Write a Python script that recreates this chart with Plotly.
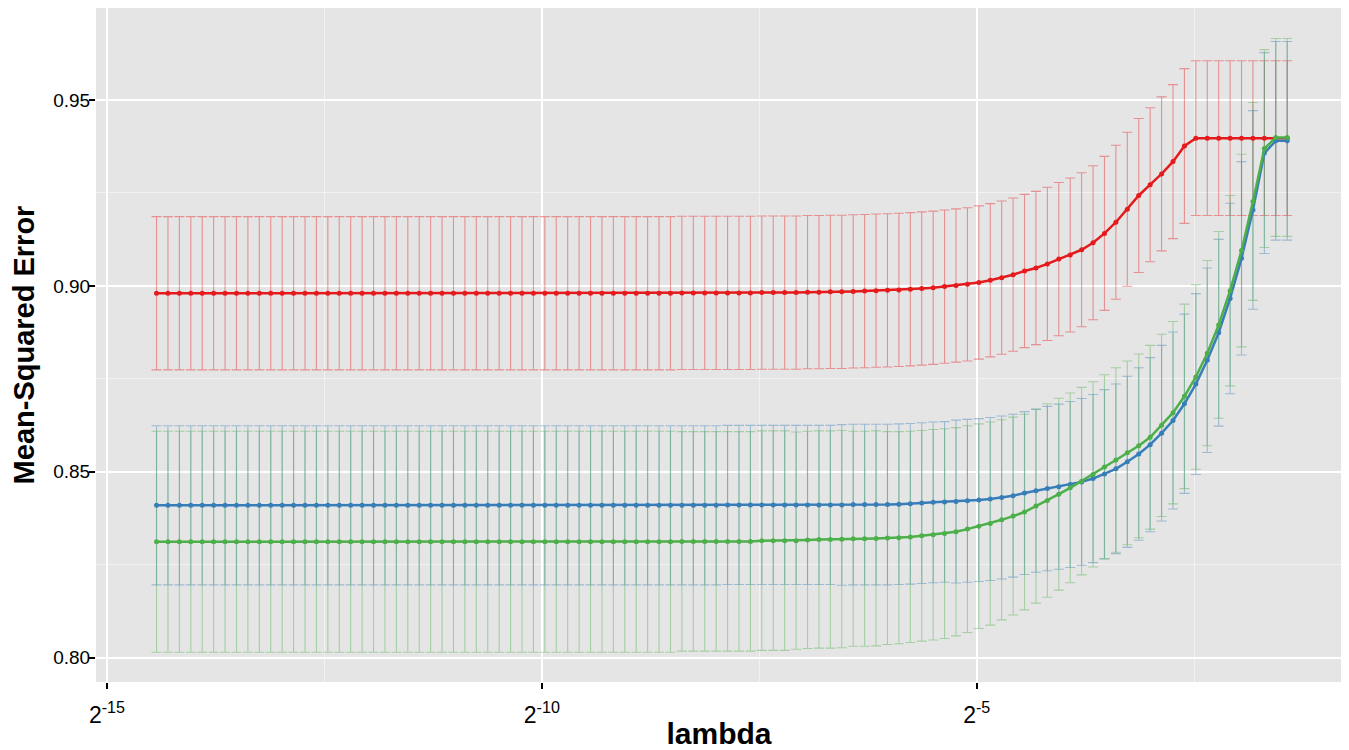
import numpy as np
import plotly.graph_objects as go

# ---- data -------------------------------------------------------------
# lambda grid: 100 log-spaced values (log2 from -14.43 to -1.43)
log2_lambda = np.linspace(-14.43, -1.43, 100)
lam = 2.0 ** log2_lambda

red_mean = ([0.8980] * 46 + [0.8981] * 7 + [0.8982] * 4 +
            [0.8983, 0.8983, 0.8984, 0.8984, 0.8985, 0.8986, 0.8987, 0.8988,
             0.8989, 0.8991, 0.8993, 0.8995, 0.8998, 0.9001, 0.9004, 0.9009,
             0.9015, 0.9022, 0.9030, 0.9040, 0.9048, 0.9059, 0.9072, 0.9083,
             0.9097, 0.9116, 0.9141, 0.9171, 0.9206, 0.9243, 0.9272, 0.9301,
             0.9334, 0.9376] + [0.9397] * 9)
red_se = [0.0206] * 80 + [0.0207] * 10 + [0.0208] * 10

blue_mean = ([0.8410] * 50 + [0.8411] * 11 +
             [0.8412, 0.8412, 0.8412, 0.8412, 0.8413, 0.8414, 0.8416, 0.8418,
              0.8419, 0.8420, 0.8422, 0.8424, 0.8427, 0.8431, 0.8436, 0.8443,
              0.8449, 0.8455, 0.8460, 0.8466, 0.8473, 0.8482, 0.8494, 0.8508,
              0.8527, 0.8548, 0.8573, 0.8604, 0.8638, 0.8683, 0.8736, 0.8800,
              0.8874, 0.8966, 0.9074, 0.9204, 0.9357, 0.9390, 0.9390])
blue_se = ([0.0214] * 60 + [0.0216] * 10 + [0.0219] * 8 +
           [0.0221, 0.0222, 0.0223, 0.0224, 0.0226, 0.0227, 0.0228, 0.0230,
            0.0232, 0.0234, 0.0236, 0.0238, 0.0241, 0.0243, 0.0248, 0.0251,
            0.0256, 0.0260, 0.0267, 0.0270, 0.0267, 0.0267])

green_mean = ([0.8312] * 46 + [0.8313] * 7 + [0.8315] * 4 +
              [0.8317, 0.8318, 0.8318, 0.8319, 0.8320, 0.8320, 0.8321, 0.8322,
               0.8323, 0.8325, 0.8328, 0.8331, 0.8334, 0.8339, 0.8346, 0.8354,
               0.8361, 0.8371, 0.8381, 0.8392, 0.8408, 0.8423, 0.8440, 0.8457,
               0.8475, 0.8493, 0.8513, 0.8532, 0.8551, 0.8570, 0.8593, 0.8625,
               0.8659, 0.8703, 0.8755, 0.8819, 0.8895, 0.8987, 0.9095, 0.9227,
               0.9369, 0.9399, 0.9399])
green_se = ([0.0297] * 46 + [0.0295] * 10 + [0.0292] * 5 + [0.0289] * 3 +
            [0.0286, 0.0285, 0.0284, 0.0283, 0.0283, 0.0282, 0.0280, 0.0278,
             0.0275, 0.0273, 0.0269, 0.0266, 0.0263, 0.0261, 0.0260, 0.0258,
             0.0255, 0.0252, 0.0249, 0.0248, 0.0248, 0.0247, 0.0247, 0.0247,
             0.0245, 0.0245, 0.0248, 0.0248, 0.0249, 0.0251, 0.0256, 0.0259,
             0.0266, 0.0266, 0.0266, 0.0266])

series = [
    ("red", red_mean, red_se, (228, 26, 28)),
    ("blue", blue_mean, blue_se, (55, 126, 184)),
    ("green", green_mean, green_se, (77, 175, 74)),
]

y_ticks = [0.80, 0.85, 0.90, 0.95]
y_tick_labels = ["0.80", "0.85", "0.90", "0.95"]
x_tick_exps = [-15, -10, -5]
x_minor_exps = [-12.5, -7.5, -2.5]

# ---- figure -----------------------------------------------------------
fig = go.Figure()

# error bars first (underneath lines)
for name, mean, se, (r, g, b) in series:
    fig.add_trace(go.Scatter(
        x=lam, y=mean, mode="markers",
        marker=dict(size=1, opacity=0),
        error_y=dict(type="data", array=se, visible=True,
                     color=f"rgba({r},{g},{b},0.42)", thickness=1.1, width=5),
        showlegend=False, hoverinfo="skip"))

for name, mean, se, (r, g, b) in series:
    fig.add_trace(go.Scatter(
        x=lam, y=mean, mode="lines+markers", name=name,
        line=dict(color=f"rgb({r},{g},{b})", width=2.5),
        marker=dict(color=f"rgb({r},{g},{b})", size=5),
        showlegend=False))

font_family = "Liberation Sans, Arial, sans-serif"

# the page body adds an 8px offset, so the figure is sized/margined to compensate
fig.update_layout(
    width=1341, height=742,
    margin=dict(l=88, r=7, t=0, b=68),
    plot_bgcolor="#E5E5E5", paper_bgcolor="white",
    font=dict(family=font_family, color="black", size=19),
    showlegend=False,
)

fig.update_xaxes(
    type="log", automargin=False,
    range=[np.log10(2.0 ** -15.126), np.log10(2.0 ** -0.80)],
    tickmode="array",
    tickvals=[2.0 ** e for e in x_tick_exps],
    ticktext=[f"2<sup>{e}</sup>" for e in x_tick_exps],
    ticks="outside", ticklen=6, tickwidth=2, tickcolor="black",
    tickfont=dict(size=23, color="black"),
    ticklabelstandoff=6,
    showgrid=True, gridcolor="white", gridwidth=2,
    zeroline=False, showline=False,
    minor=dict(tickmode="array", tickvals=[2.0 ** e for e in x_minor_exps],
               showgrid=True, gridcolor="#F2F2F2", gridwidth=1, ticks=""),
    title=dict(text="<b>lambda</b>", font=dict(size=30, color="black"), standoff=8),
)

fig.update_yaxes(
    automargin=False,
    range=[0.7935, 0.9747],
    tickmode="array", tickvals=y_ticks, ticktext=y_tick_labels,
    ticks="outside", ticklen=6, tickwidth=2, tickcolor="black",
    tickfont=dict(size=19, color="black"),
    ticklabelstandoff=-5,
    showgrid=True, gridcolor="white", gridwidth=2,
    zeroline=False, showline=False,
    minor=dict(tickmode="array", tickvals=[0.825, 0.875, 0.925],
               showgrid=True, gridcolor="#F2F2F2", gridwidth=1, ticks=""),
    title=dict(text="<b>Mean-Squared Error</b>", font=dict(size=29, color="black"), standoff=14),
)

fig.write_html("out.html")
